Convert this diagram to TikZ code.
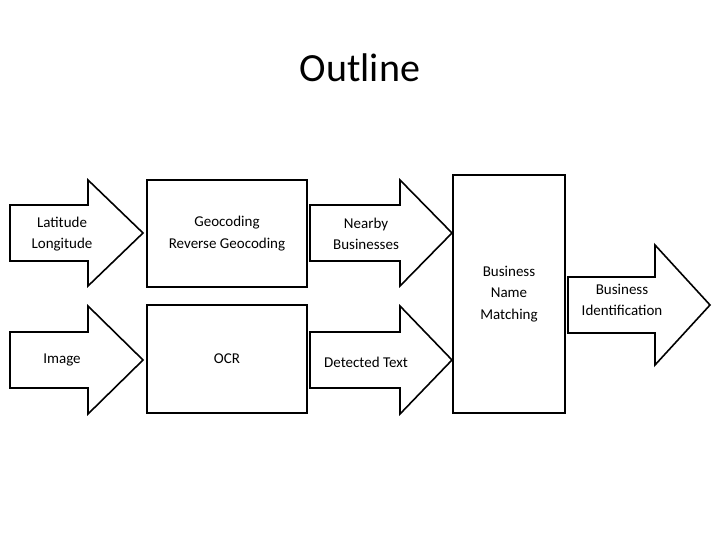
\documentclass[tikz,border=0pt]{standalone}
\usepackage{fontspec}
\setmainfont{Carlito}
\newcommand{\blockarrow}[6]{% x0, xhead, xtip, ymid, half body, half head
  \draw[line width=1.6pt] (#1,#4-#5) -- (#2,#4-#5) -- (#2,#4-#6) -- (#3,#4) -- (#2,#4+#6) -- (#2,#4+#5) -- (#1,#4+#5) -- cycle;
}
\begin{document}
\begin{tikzpicture}[x=1pt,y=-1pt,box/.style={draw,line width=1.6pt,inner sep=0pt},lbl/.style={align=center,font=\fontsize{15}{21.5}\selectfont}]
\useasboundingbox (0,0) rectangle (720,540);

\node[font=\fontsize{40}{44}\selectfont] (title) at (360,68) {Outline};

% upper row
\blockarrow{10}{88}{143}{233}{28}{53}
\node[lbl] (latlon) at (62,234) {Latitude\\Longitude};
\node[box,minimum width=160,minimum height=107] (geo) at (227,233.5) {};
\node[lbl] at (geo) {Geocoding\\Reverse Geocoding};
\blockarrow{310}{400}{452}{233}{28}{53}
\node[lbl] (nearby) at (366,234) {Nearby\\Businesses};

% lower row
\blockarrow{10}{88}{143}{360}{28}{54}
\node[lbl] (image) at (62,360) {Image};
\node[box,minimum width=160,minimum height=108] (ocr) at (227,359) {};
\node[lbl] at (ocr) {OCR};
\blockarrow{310}{400}{452}{360}{28}{54}
\node[lbl] (detected) at (366,362) {Detected Text};

% matching and result
\node[box,minimum width=112,minimum height=238] (match) at (509,294) {};
\node[lbl] at (match) {Business\\Name\\Matching};
\blockarrow{568}{655}{710}{305}{28}{60}
\node[lbl] (ident) at (622,300) {Business\\Identification};
\end{tikzpicture}
\end{document}
